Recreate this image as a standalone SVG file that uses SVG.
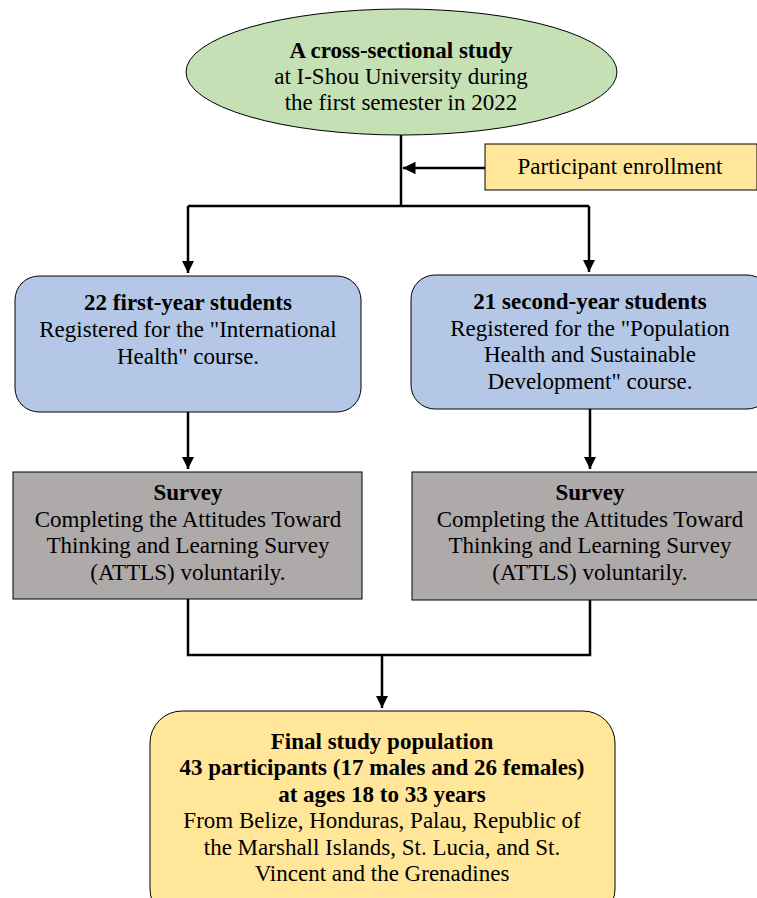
<svg xmlns="http://www.w3.org/2000/svg" width="757" height="898" viewBox="0 0 757 898">
<defs>
<marker id="ah" viewBox="0 0 10 10" refX="10" refY="5" markerWidth="5" markerHeight="5" orient="auto" markerUnits="strokeWidth">
<path d="M0,0 L10,5 L0,10 z" fill="#000"/>
</marker>
<style>
text{font-family:"Liberation Serif","Times New Roman",serif;font-size:23px;fill:#000;text-anchor:middle}
.b{font-weight:bold}
.n{stroke:#000;stroke-width:1}
.c{fill:none;stroke:#000;stroke-width:2.5}
</style>
</defs>
<rect width="757" height="898" fill="#fff"/>
<g id="connectors">
<polyline class="c" points="401,135 401,206"/>
<polyline class="c" points="188,206 589,206"/>
<polyline class="c" points="188,206 188,273" marker-end="url(#ah)"/>
<polyline class="c" points="589,206 589,272" marker-end="url(#ah)"/>
<polyline class="c" points="485,168 403,168" marker-end="url(#ah)"/>
<polyline class="c" points="188,412 188,469" marker-end="url(#ah)"/>
<polyline class="c" points="590,409 590,469" marker-end="url(#ah)"/>
<polyline class="c" points="188,599 188,655 590,655 590,600"/>
<polyline class="c" points="382,655 382,708" marker-end="url(#ah)"/>
</g>
<g id="study">
<ellipse class="n" cx="401.5" cy="72" rx="215.5" ry="63" fill="#c5e0b4"/>
<text x="401" y="58" class="b">A cross-sectional study</text>
<text x="401" y="84">at I-Shou University during</text>
<text x="401" y="110">the first semester in 2022</text>
</g>
<g id="enrollment">
<rect class="n" x="485" y="144" width="272" height="46" fill="#ffe699"/>
<text x="620" y="174">Participant enrollment</text>
</g>
<g id="first-year">
<rect class="n" x="15" y="276" width="346" height="136" rx="24" fill="#b4c7e7"/>
<text x="188" y="310" class="b">22 first-year students</text>
<text x="188" y="337">Registered for the "International</text>
<text x="188" y="364">Health" course.</text>
</g>
<g id="second-year">
<rect class="n" x="411" y="275" width="360" height="134" rx="24" fill="#b4c7e7"/>
<text x="590" y="309" class="b">21 second-year students</text>
<text x="590" y="336">Registered for the "Population</text>
<text x="590" y="362">Health and Sustainable</text>
<text x="590" y="389">Development" course.</text>
</g>
<g id="survey-1">
<rect class="n" x="13" y="472" width="349" height="127" fill="#aeaaaa"/>
<text x="188" y="500" class="b">Survey</text>
<text x="188" y="527">Completing the Attitudes Toward</text>
<text x="188" y="553">Thinking and Learning Survey</text>
<text x="188" y="580">(ATTLS) voluntarily.</text>
</g>
<g id="survey-2">
<rect class="n" x="412" y="472" width="350" height="128" fill="#aeaaaa"/>
<text x="590" y="500" class="b">Survey</text>
<text x="590" y="527">Completing the Attitudes Toward</text>
<text x="590" y="553">Thinking and Learning Survey</text>
<text x="590" y="580">(ATTLS) voluntarily.</text>
</g>
<g id="final">
<rect class="n" x="150" y="711" width="465" height="210" rx="32" fill="#ffe699"/>
<text x="382" y="749" class="b">Final study population</text>
<text x="382" y="775" class="b">43 participants (17 males and 26 females)</text>
<text x="382" y="802" class="b">at ages 18 to 33 years</text>
<text x="382" y="828">From Belize, Honduras, Palau, Republic of</text>
<text x="382" y="855">the Marshall Islands, St. Lucia, and St.</text>
<text x="382" y="881">Vincent and the Grenadines</text>
</g>
</svg>
